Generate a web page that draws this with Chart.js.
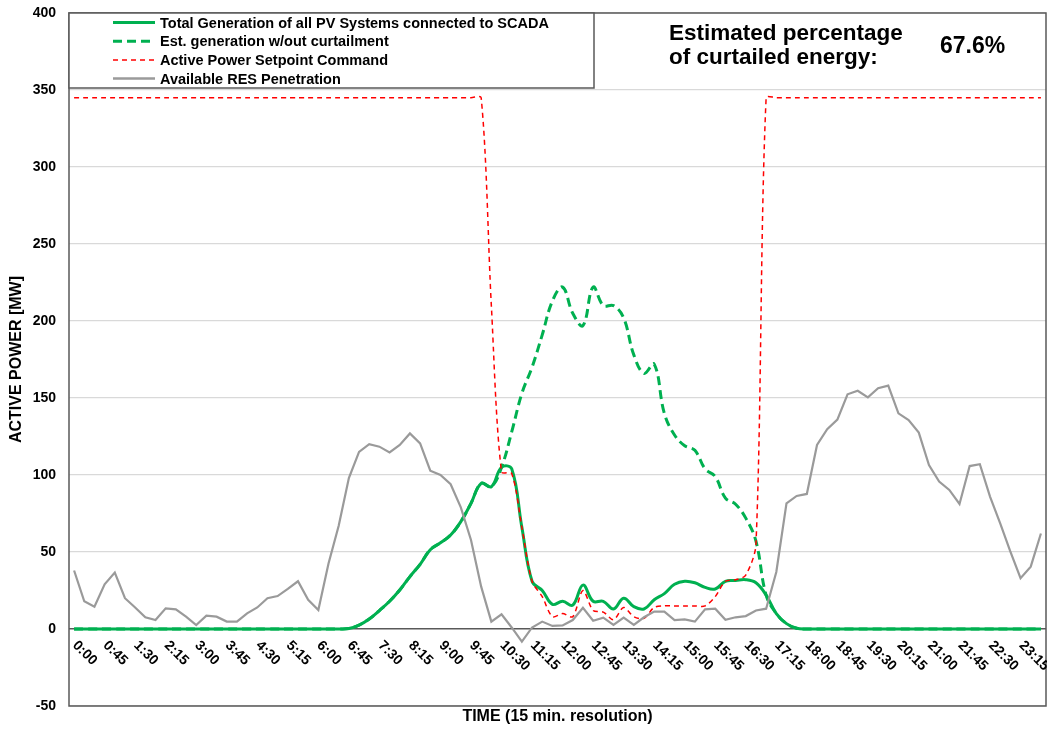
<!DOCTYPE html>
<html><head><meta charset="utf-8">
<script src="https://cdn.jsdelivr.net/npm/chart.js@4.4.1/dist/chart.umd.min.js"></script>
<style>html,body{margin:0;padding:0;background:#fff}#wrap{width:1047px;height:730px}</style>
</head><body><div id="wrap"><canvas id="c" width="1047" height="730"></canvas></div>
<script>
const timeLabels = [
"0:00","0:15","0:30","0:45","1:00","1:15","1:30","1:45","2:00","2:15","2:30","2:45",
"3:00","3:15","3:30","3:45","4:00","4:15","4:30","4:45","5:00","5:15","5:30","5:45",
"6:00","6:15","6:30","6:45","7:00","7:15","7:30","7:45","8:00","8:15","8:30","8:45",
"9:00","9:15","9:30","9:45","10:00","10:15","10:30","10:45","11:00","11:15","11:30","11:45",
"12:00","12:15","12:30","12:45","13:00","13:15","13:30","13:45","14:00","14:15","14:30","14:45",
"15:00","15:15","15:30","15:45","16:00","16:15","16:30","16:45","17:00","17:15","17:30","17:45",
"18:00","18:15","18:30","18:45","19:00","19:15","19:30","19:45","20:00","20:15","20:30","20:45",
"21:00","21:15","21:30","21:45","22:00","22:15","22:30","22:45","23:00","23:15","23:30","23:45"];
const tickEvery = 3;

const totalGen = [
0,0,0,0,0,0,0,0,0,0,0,0,
0,0,0,0,0,0,0,0,0,0,0,0,
0,0,0,0.3,2.5,6.5,12,18,25.3,34,42,51.5,
56,61,69.7,81.6,94.6,92.4,105,104,66,31,25,16,
18,15.5,28.5,18,18,13,20,14.5,13,19,23,29,
31,30,27,26,31,31.5,32,30,22,10,3.5,0.5,
0,0,0,0,0,0,0,0,0,0,0,0,
0,0,0,0,0,0,0,0,0,0,0,0];

const estGen = [
0,0,0,0,0,0,0,0,0,0,0,0,
0,0,0,0,0,0,0,0,0,0,0,0,
0,0,0,0.3,2.5,6.5,12,18,25.3,34,42,51.5,
56,61,69.7,81.6,94.6,92.4,105,128,153,170,191,213,
222,205,197,222,210,210,202,178,166,172,140,126,
119,116,104,99,85,81,72,57,22,10,3.5,0.5,
0,0,0,0,0,0,0,0,0,0,0,0,
0,0,0,0,0,0,0,0,0,0,0,0];

const setpoint = [
345,345,345,345,345,345,345,345,345,345,345,345,
345,345,345,345,345,345,345,345,345,345,345,345,
345,345,345,345,345,345,345,345,345,345,345,345,
345,345,345,345,345,210,102,101,66,31,21,8,
10,8,25,12,11,6,14,8,7,14,15,15,
15,15,15,21,31,32,35,55,345,345,345,345,
345,345,345,345,345,345,345,345,345,345,345,345,
345,345,345,345,345,345,345,345,345,345,345,345];

const resPen = [
38,18,14.5,29,36.6,20,14,7.6,5.8,13.4,12.8,8,
2.6,8.6,8,4.8,4.8,10.2,14,20,21.4,26,31,19,
12.3,42.6,67,98,115,120,118.4,114.7,119.5,127,120.5,102.8,
100,94,79,57.8,27.5,4.8,9.5,1,-8.2,1,4.8,2,
2.3,5.8,13.8,5.4,7.4,2.6,7.4,2.6,7.6,11.3,11.3,5.8,
6.2,4.8,12.8,13.2,6,7.6,8.4,12,13.2,37,81.6,86.4,
87.7,119.5,129.7,136,152.4,154.7,150.4,156.3,158,140,135.7,127.5,
106.5,95.7,90.3,81.2,105.8,107,86,68.6,50.2,33,40.5,62];

const seriesNames = [
"Total Generation of all PV Systems connected to SCADA",
"Est. generation w/out curtailment",
"Active Power Setpoint Command",
"Available RES Penetration"];
const noteLines = ["Estimated percentage","of curtailed energy:"];
const noteValue = "67.6%";

const FONT = "'Liberation Sans', Arial, Helvetica, sans-serif";
const GREEN = '#00b050', RED = '#ff0000', GRAY = '#9a9a9a', FRAME = '#595959';

const decor = {
  id: 'decor',
  afterDraw(chart) {
    const ctx = chart.ctx, a = chart.chartArea, xs = chart.scales.x;
    ctx.save();
    ctx.strokeStyle = FRAME; ctx.lineWidth = 1.5;
    ctx.strokeRect(a.left, a.top, a.right - a.left, a.bottom - a.top);
    ctx.fillStyle = '#000';
    ctx.font = 'bold 14px ' + FONT;
    ctx.textAlign = 'left'; ctx.textBaseline = 'alphabetic';
    for (let i = 0; i < timeLabels.length; i += tickEvery) {
      const x = xs.getPixelForValue(i);
      ctx.save();
      ctx.translate(x - 2, 646);
      ctx.rotate(Math.PI / 4);
      ctx.fillText(timeLabels[i], 0, 0);
      ctx.restore();
    }
    const bx = a.left, by = a.top, bw = 525, bh = 75;
    ctx.fillStyle = '#fff';
    ctx.fillRect(bx, by, bw, bh);
    ctx.strokeStyle = FRAME; ctx.lineWidth = 1.5;
    ctx.strokeRect(bx, by, bw, bh);
    const rows = [27.5, 46.3, 65, 83.5];
    const styles = [
      {c: GREEN, w: 3, d: []},
      {c: GREEN, w: 3, d: [9, 5]},
      {c: RED, w: 1.5, d: [5, 4]},
      {c: GRAY, w: 2.5, d: []}];
    ctx.font = 'bold 14.5px ' + FONT;
    for (let k = 0; k < 4; k++) {
      const s = styles[k];
      ctx.beginPath();
      ctx.strokeStyle = s.c; ctx.lineWidth = s.w; ctx.setLineDash(s.d);
      ctx.moveTo(113, rows[k] - 5); ctx.lineTo(155, rows[k] - 5);
      ctx.stroke();
      ctx.setLineDash([]);
      ctx.fillStyle = '#000';
      ctx.fillText(seriesNames[k], 160, rows[k]);
    }
    ctx.font = 'bold 22.5px ' + FONT;
    ctx.fillText(noteLines[0], 669, 40);
    ctx.fillText(noteLines[1], 669, 64);
    ctx.font = 'bold 23px ' + FONT;
    ctx.fillText(noteValue, 940, 53);
    ctx.restore();
  }
};

new Chart(document.getElementById('c'), {
  type: 'line',
  data: {
    labels: timeLabels,
    datasets: [
      {label: seriesNames[0], data: totalGen, borderColor: GREEN, borderWidth: 3, tension: 0.4, pointRadius: 0, order: 4},
      {label: seriesNames[1], data: estGen, borderColor: GREEN, borderWidth: 3, borderDash: [9, 5], tension: 0.4, pointRadius: 0, order: 3},
      {label: seriesNames[2], data: setpoint, borderColor: RED, borderWidth: 1.5, borderDash: [5, 4], tension: 0.3, pointRadius: 0, order: 2},
      {label: seriesNames[3], data: resPen, borderColor: GRAY, borderWidth: 2.2, tension: 0, pointRadius: 0, order: 1}
    ]
  },
  options: {
    responsive: false, animation: false, devicePixelRatio: 1,
    layout: {padding: {top: 13, right: 1, left: 0, bottom: 0}},
    plugins: {legend: {display: false}, tooltip: {enabled: false}},
    scales: {
      x: {
        offset: true,
        grid: {display: false, drawTicks: false},
        border: {display: false},
        ticks: {display: false},
        title: {display: true, text: 'TIME (15 min. resolution)', color: '#000',
                font: {family: FONT, size: 16, weight: 'bold'}, padding: {top: 0, bottom: 4}},
        afterFit(s) { s.height = 24; s.paddingLeft = 0; s.paddingRight = 0; }
      },
      y: {
        min: -50, max: 400,
        ticks: {stepSize: 50, color: '#000', padding: 13, font: {family: FONT, size: 14, weight: 'bold'}},
        grid: {drawTicks: false,
               color: c => (c.tick && c.tick.value === 0) ? FRAME : '#d9d9d9',
               lineWidth: c => (c.tick && c.tick.value === 0) ? 1.5 : 1.3},
        border: {display: false},
        title: {display: true, text: 'ACTIVE POWER [MW]', color: '#000',
                font: {family: FONT, size: 16, weight: 'bold'}, padding: {top: 7, bottom: 0}},
        afterFit(s) { s.width = 69; s.paddingTop = 0; s.paddingBottom = 0; }
      }
    }
  },
  plugins: [decor]
});
</script></body></html>
